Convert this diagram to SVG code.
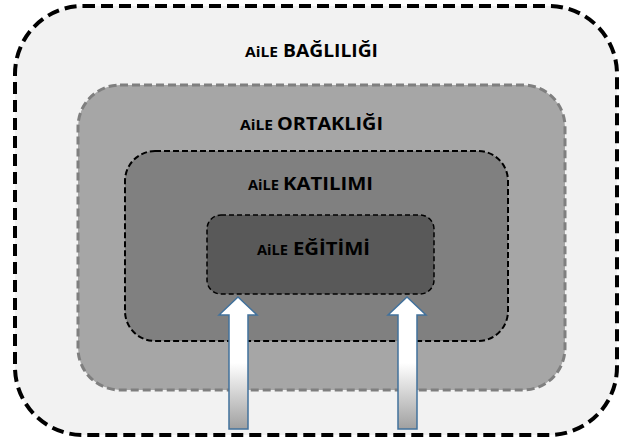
<svg xmlns="http://www.w3.org/2000/svg" width="619" height="445" viewBox="0 0 619 445">
<style>
.sm{font-family:"Open Sans","Liberation Sans",Arial,sans-serif;font-weight:bold;font-size:14px;fill:#000}
.bg{font-family:"Open Sans","Liberation Sans",Arial,sans-serif;font-weight:bold;font-size:18px;fill:#000}
.arrow{fill:url(#ag);stroke:#41719c;stroke-width:1.5;stroke-linejoin:miter}
</style>
<defs>
<linearGradient id="ag" x1="0" y1="0" x2="0" y2="1">
<stop offset="0" stop-color="#ffffff"/>
<stop offset="0.5" stop-color="#ffffff"/>
<stop offset="1" stop-color="#a0a0a0"/>
</linearGradient>
</defs>
<rect width="619" height="445" fill="#ffffff"/>
<g id="node-bagliligi">
<rect x="15" y="6" width="602" height="429" rx="68" ry="68" fill="#f2f2f2" stroke="#000" stroke-width="4" stroke-dasharray="12 6"/>
<text class="sm" x="245" y="57" textLength="33" lengthAdjust="spacingAndGlyphs">AiLE</text>
<text class="bg" x="283" y="57" textLength="95" lengthAdjust="spacingAndGlyphs">BAĞLILIĞI</text>
</g>
<g id="node-ortakligi">
<rect x="78" y="85" width="487" height="305" rx="42" ry="42" fill="#a6a6a6" stroke="#7f7f7f" stroke-width="3" stroke-dasharray="8 4"/>
<text class="sm" x="240" y="130" textLength="33" lengthAdjust="spacingAndGlyphs">AiLE</text>
<text class="bg" x="277" y="130" textLength="106" lengthAdjust="spacingAndGlyphs">ORTAKLIĞI</text>
</g>
<g id="node-katilimi">
<rect x="125" y="151" width="383" height="190" rx="30" ry="30" fill="#808080" stroke="#000" stroke-width="2" stroke-dasharray="6 3"/>
<text class="sm" x="248" y="190" textLength="31" lengthAdjust="spacingAndGlyphs">AiLE</text>
<text class="bg" x="283" y="190" textLength="90" lengthAdjust="spacingAndGlyphs">KATILIMI</text>
</g>
<g id="node-egitimi">
<rect x="207" y="215" width="227" height="79" rx="14" ry="14" fill="#595959" stroke="#000" stroke-width="1.5" stroke-dasharray="5 3"/>
<text class="sm" x="257" y="255" textLength="31" lengthAdjust="spacingAndGlyphs">AiLE</text>
<text class="bg" x="293" y="255" textLength="77" lengthAdjust="spacingAndGlyphs">EĞİTİMİ</text>
</g>
<g id="connectors">
<polygon class="arrow" points="238,297 257,315 248,315 248,429 229,429 229,315 219,315"/>
<polygon class="arrow" points="407,297 426,315 417,315 417,429 398,429 398,315 388,315"/>
</g>
</svg>
